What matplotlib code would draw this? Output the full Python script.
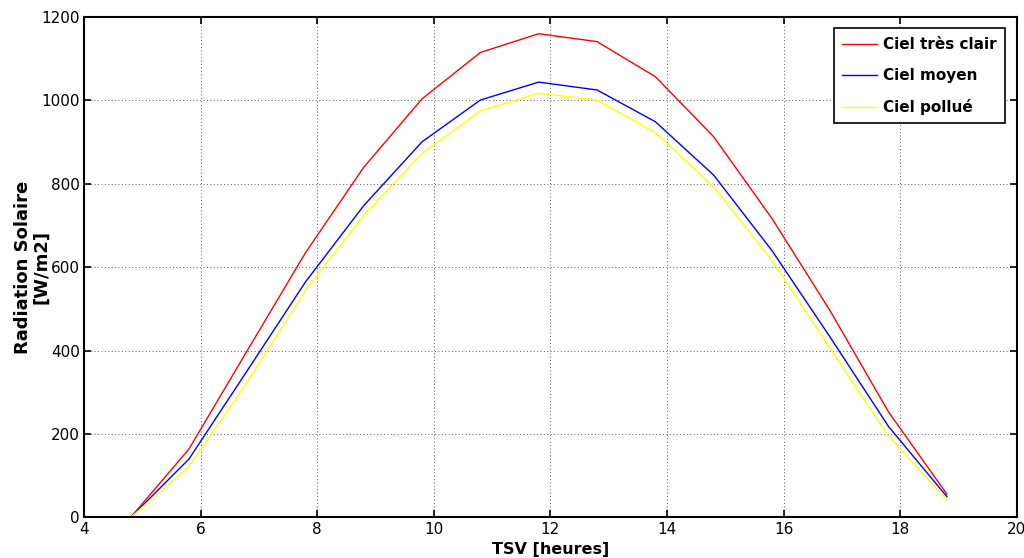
import matplotlib
matplotlib.use("Agg")
import matplotlib.pyplot as plt
import numpy as np

# heures (temps solaire vrai)
tsv = [4.8, 5.8, 6.8, 7.8, 8.8, 9.8, 10.8, 11.8, 12.8, 13.8, 14.8, 15.8, 16.8, 17.8, 18.8]

# radiation solaire [W/m2]
tres_clair = [0, 164, 400, 635, 840, 1004, 1115, 1160, 1141, 1057, 913, 717, 495, 253, 56]
moyen = [0, 140, 352, 565, 748, 901, 1001, 1044, 1025, 949, 821, 640, 432, 218, 50]
pollue = [0, 122, 325, 545, 725, 873, 975, 1017, 1001, 923, 793, 616, 405, 195, 42]

labels = ["Ciel très clair", "Ciel moyen", "Ciel pollué"]

fig = plt.figure(figsize=(10.24, 5.58), dpi=100)
ax = fig.add_axes([0.082, 0.0726, 0.911, 0.8969])

ax.plot(tsv, tres_clair, color="red", lw=1, label=labels[0])
ax.plot(tsv, moyen, color="blue", lw=1, label=labels[1])
ax.plot(tsv, pollue, color="yellow", lw=1, label=labels[2])

ax.set_xlim(4, 20)
ax.set_ylim(0, 1200)
ax.set_xticks(np.arange(4, 21, 2))
ax.set_yticks(np.arange(0, 1201, 200))

# grille pointillee style matlab
ax.grid(True, color="black", linestyle=(0, (1, 2.5)), linewidth=0.7, alpha=0.65)
ax.tick_params(direction="in", top=True, right=True, length=5, width=1.2,
               labelsize=11, pad=3)
for lab in ax.get_xticklabels() + ax.get_yticklabels():
    lab.set_fontfamily(["Liberation Sans Narrow", "DejaVu Sans"])
for s in ax.spines.values():
    s.set_linewidth(1.5)

ax.set_xlabel("TSV [heures]", fontsize=11.5, fontweight="heavy", labelpad=4)
ax.set_ylabel("Radiation Solaire\n[W/m2]", fontsize=13, fontweight="heavy",
              linespacing=1.0)
ax.yaxis.set_label_coords(-0.036, 0.5)

leg = ax.legend(loc="upper right", prop={"weight": "heavy", "size": 11},
                fancybox=False, edgecolor="black", framealpha=1,
                handlelength=2.3, handletextpad=0.4, borderaxespad=0.75,
                labelspacing=1.05, borderpad=0.55)
leg.get_frame().set_linewidth(1.2)

fig.savefig("out.png", dpi=100)
